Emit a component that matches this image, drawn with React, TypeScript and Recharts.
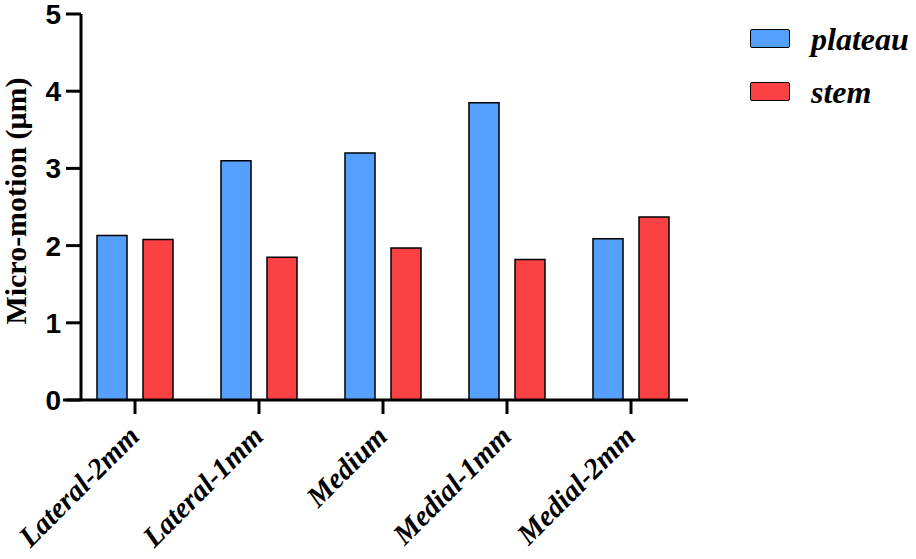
import React from 'react';
import { BarChart, Bar, XAxis, YAxis, ReferenceLine } from 'recharts';

const categories = ['Lateral-2mm', 'Lateral-1mm', 'Medium', 'Medial-1mm', 'Medial-2mm'];
const plateau = [2.13, 3.1, 3.2, 3.85, 2.09];
const stem = [2.08, 1.85, 1.97, 1.82, 2.37];
const yTicks = [0, 1, 2, 3, 4, 5];
const seriesNames = ['plateau', 'stem'];
const colors = ['#55A0FC', '#FA4245'];

const data = categories.map((c, i) => ({ name: c, plateau: plateau[i], stem: stem[i] }));

const XTick = (props: any) => {
  const { x, y, payload } = props;
  return (
    <text
      x={x + 6}
      y={y + 22}
      transform={`rotate(-45, ${x + 6}, ${y + 22})`}
      textAnchor="end"
      fontFamily="'Liberation Serif', 'Times New Roman', serif"
      fontStyle="italic"
      fontWeight="bold"
      fontSize={29}
      fill="#000"
    >
      {payload.value}
    </text>
  );
};

const LegendBox = () => (
  <div style={{ position: 'absolute', left: 750, top: 12, width: 166 }}>
    {seriesNames.map((n, i) => (
      <div key={n} style={{ display: 'flex', alignItems: 'center', height: 53 }}>
        <div
          style={{
            width: 38,
            height: 17,
            background: colors[i],
            border: '1.5px solid #000',
            borderRadius: 2,
          }}
        />
        <span
          style={{
            marginLeft: 21,
            fontFamily: "'Liberation Serif', 'Times New Roman', serif",
            fontStyle: 'italic',
            fontWeight: 'bold',
            fontSize: 32,
            color: '#000',
            lineHeight: '32px',
          }}
        >
          {n}
        </span>
      </div>
    ))}
  </div>
);

const XLine = (props: any) => {
  const { x1, y1, x2, y2 } = props;
  return <line x1={x1 - 18} y1={y1} x2={x2} y2={y2} stroke="#000" strokeWidth={3} />;
};

export default function App() {
  return (
    <div style={{ position: 'absolute', left: 0, top: 0, width: 916, height: 559, background: '#fff' }}>
      <BarChart
        width={916}
        height={559}
        data={data}
        margin={{ top: 14, right: 228, left: 0, bottom: 0 }}
        barSize={30}
        barGap={16}
      >
        <XAxis
          dataKey="name"
          height={159}
          padding={{ left: -8, right: -5 }}
          axisLine={false}
          tickLine={{ stroke: '#000', strokeWidth: 3 }}
          tickSize={14}
          tick={<XTick />}
          interval={0}
        />
        <YAxis
          width={81}
          domain={[0, 5]}
          ticks={yTicks}
          interval={0}
          axisLine={{ stroke: '#000', strokeWidth: 3 }}
          tickLine={{ stroke: '#000', strokeWidth: 3 }}
          tickSize={15}
          tickMargin={5}
          tick={{ fill: '#000', fontSize: 28, fontWeight: 'bold', fontFamily: "'Liberation Sans', Arial, sans-serif" }}
          label={() => (
            <text
              x={26}
              y={201}
              transform="rotate(-90, 26, 201)"
              textAnchor="middle"
              fontFamily="'Liberation Serif', 'Times New Roman', serif"
              fontWeight="bold"
              fontSize={30}
              fill="#000"
            >
              Micro-motion (μm)
            </text>
          )}
        />
        <Bar dataKey="plateau" name="plateau" fill={colors[0]} stroke="#000" strokeWidth={1.5} isAnimationActive={false} />
        <Bar dataKey="stem" name="stem" fill={colors[1]} stroke="#000" strokeWidth={1.5} isAnimationActive={false} />
        <ReferenceLine y={0} shape={<XLine />} ifOverflow="visible" />
      </BarChart>
      <LegendBox />
    </div>
  );
}
